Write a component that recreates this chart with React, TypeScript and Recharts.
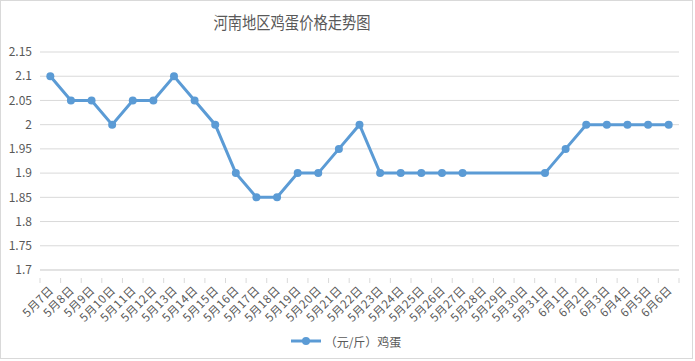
import React from "react";
import { LineChart, Line, XAxis, YAxis, CartesianGrid, Legend } from "recharts";

const dates = [
  "5月7日", "5月8日", "5月9日", "5月10日", "5月11日", "5月12日", "5月13日", "5月14日",
  "5月15日", "5月16日", "5月17日", "5月18日", "5月19日", "5月20日", "5月21日", "5月22日",
  "5月23日", "5月24日", "5月25日", "5月26日", "5月27日", "5月28日", "5月29日", "5月30日",
  "5月31日", "6月1日", "6月2日", "6月3日", "6月4日", "6月5日", "6月6日",
];

const eggPrice: (number | null)[] = [
  2.1, 2.05, 2.05, 2.0, 2.05, 2.05, 2.1, 2.05,
  2.0, 1.9, 1.85, 1.85, 1.9, 1.9, 1.95, 2.0,
  1.9, 1.9, 1.9, 1.9, 1.9, null, null, null,
  1.9, 1.95, 2.0, 2.0, 2.0, 2.0, 2.0,
];

const yTicks = [1.7, 1.75, 1.8, 1.85, 1.9, 1.95, 2, 2.05, 2.1, 2.15];

const data = dates.map((d, i) => ({ date: d, price: eggPrice[i] }));

const FONT = '"Noto Sans CJK SC", "Noto Sans", sans-serif';
const GRAY = "#595959";
const BLUE = "#5b9bd5";
const PLOT_W = 640;
const HALF = PLOT_W / dates.length / 2;

function DateTick(props: any) {
  const { x, y, payload, index } = props;
  const tx = x + 4;
  const ty = y + 13;
  return (
    <g>
      <line x1={x - HALF} y1={y} x2={x - HALF} y2={y + 5} stroke="#d9d9d9" />
      {index === dates.length - 1 && (
        <line x1={x + HALF} y1={y} x2={x + HALF} y2={y + 5} stroke="#d9d9d9" />
      )}
      <text
        x={tx}
        y={ty}
        textAnchor="end"
        fontSize={11.5}
        letterSpacing={0.5}
        fill={GRAY}
        fontFamily={FONT}
        transform={`rotate(-45, ${tx}, ${ty})`}
      >
        {payload.value}
      </text>
    </g>
  );
}

function LegendContent() {
  return (
    <div
      style={{
        display: "flex",
        alignItems: "center",
        justifyContent: "center",
        fontFamily: FONT,
        fontSize: 12,
        color: GRAY,
        paddingLeft: 12,
        height: 18,
      }}
    >
      <svg width={30} height={10} style={{ marginRight: 4 }}>
        <line x1={0} y1={5} x2={30} y2={5} stroke={BLUE} strokeWidth={3} />
        <circle cx={15} cy={5} r={4} fill={BLUE} />
      </svg>
      <span>（元/斤）鸡蛋</span>
    </div>
  );
}

export default function App() {
  return (
    <div
      style={{
        position: "absolute",
        left: 0,
        top: 0,
        width: 693,
        height: 359,
        border: "1px solid #d9d9d9",
        boxSizing: "border-box",
        background: "#fff",
      }}
    >
      <div
        style={{
          position: "absolute",
          left: 141,
          width: 300,
          top: 8,
          textAlign: "center",
          fontFamily: FONT,
          fontSize: 17,
          color: GRAY,
          lineHeight: "26px",
          transform: "scaleX(0.84)",
        }}
      >
        河南地区鸡蛋价格走势图
      </div>
      <LineChart
        width={691}
        height={357}
        data={data}
        margin={{ top: 51, right: 13, bottom: 8, left: 0 }}
        style={{ fontFamily: FONT }}
      >
        <CartesianGrid vertical={false} stroke="#d9d9d9" />
        <XAxis
          dataKey="date"
          interval={0}
          padding={{ left: HALF, right: HALF }}
          tickLine={false}
          axisLine={{ stroke: "#d9d9d9" }}
          tick={<DateTick />}
          height={62}
        />
        <YAxis
          domain={[1.7, 2.15]}
          ticks={yTicks}
          width={39}
          axisLine={false}
          tickLine={false}
          tick={{ fill: GRAY, fontSize: 12 }}
        />
        <Legend verticalAlign="bottom" height={18} content={<LegendContent />} />
        <Line
          type="linear"
          dataKey="price"
          stroke={BLUE}
          strokeWidth={3}
          dot={{ r: 4, fill: BLUE, stroke: BLUE, strokeWidth: 0 }}
          connectNulls
          isAnimationActive={false}
        />
      </LineChart>
    </div>
  );
}
